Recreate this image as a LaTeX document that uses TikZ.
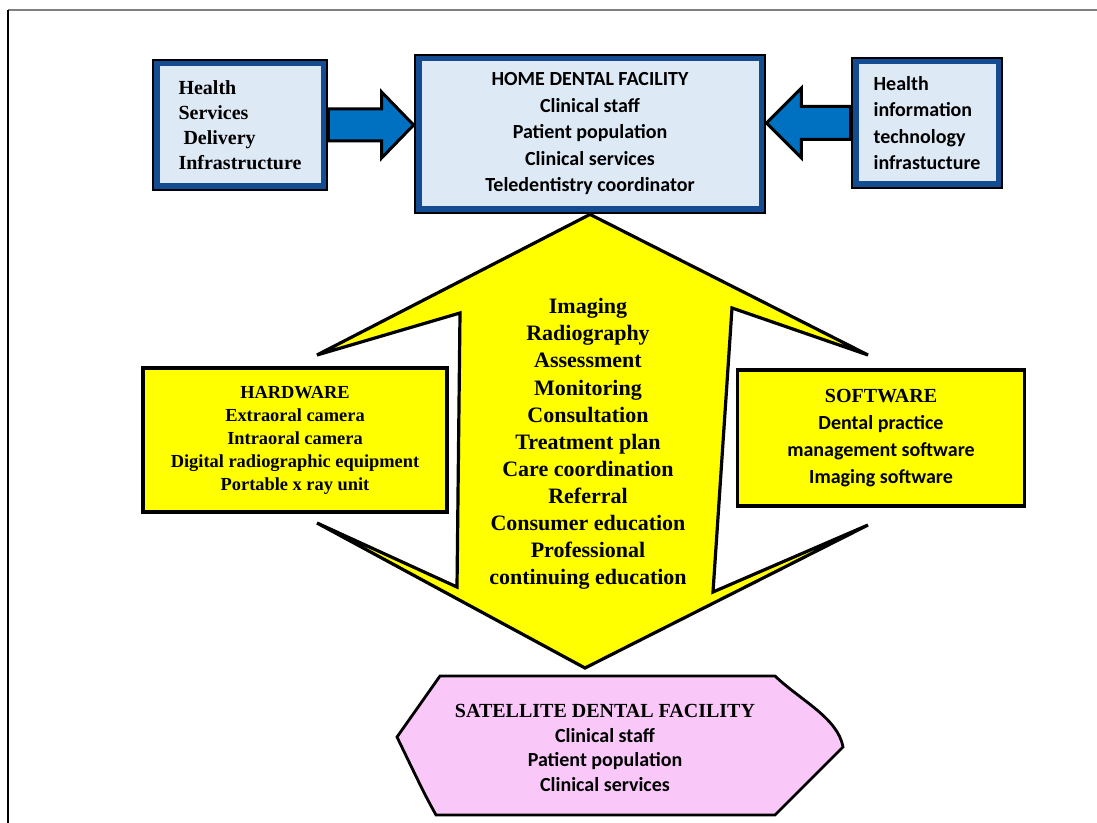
\documentclass[tikz,border=0pt]{standalone}
\usepackage{fontspec}
\setmainfont{Liberation Serif}
\newfontfamily\calib{Carlito}
\usetikzlibrary{calc}
\definecolor{hd_light}{RGB}{222,233,246}
\definecolor{hd_band}{RGB}{20,75,145}
\definecolor{hd_arrow}{RGB}{0,112,192}
\definecolor{tele_yellow}{RGB}{255,255,0}
\definecolor{sat_pink}{RGB}{249,200,249}
\tikzstyle{infra}=[rectangle,draw=black,line width=1.4pt,fill=hd_light,inner sep=0pt,
  path picture={\draw[hd_band,line width=6.5pt] (path picture bounding box.south west)
  rectangle (path picture bounding box.north east);},
  align=left,font=\bfseries\fontsize{10}{12.5}\selectfont]
\tikzstyle{homebox}=[infra,align=center,font=\calib\bfseries\fontsize{10}{13.25}\selectfont]
\tikzstyle{barrow}=[draw=black,fill=hd_arrow,line width=1.5pt,line join=miter]
\tikzstyle{tele}=[draw=black,fill=tele_yellow,line width=1.6pt]
\tikzstyle{ybox}=[rectangle,draw=black,fill=tele_yellow,line width=1.6pt,inner sep=0pt,
  align=center,font=\bfseries\fontsize{9.2}{11.5}\selectfont]
\tikzstyle{sat}=[draw=black,fill=sat_pink,line width=1.4pt]

\begin{document}
\begin{tikzpicture}[x=0.5pt,y=-0.5pt]
        \useasboundingbox (0,0) rectangle (1097,823);
        \draw[gray,line width=1pt] (8,10) -- (1097,10);
        \draw[black,line width=1pt] (8,10) -- (8,823);
        \node [style=infra,minimum width=87pt,minimum height=65pt] (hsd) at (240,125)
          {Health\\Services\\\ Delivery\\Infrastructure};
        \node [style=homebox,minimum width=175pt,minimum height=79pt] (home) at (590,134)
          {HOME DENTAL FACILITY\\Clinical staff\\Patient population\\Clinical services\\Teledentistry coordinator};
        \node [style=infra,font=\calib\bfseries\fontsize{10}{13.3}\selectfont,
          minimum width=75pt,minimum height=65pt] (hit) at (927,123)
          {Health\\information\\technology\\infrastucture};
        \coordinate (hsdTip) at (home.west |- hsd.east);
        \coordinate (hitTip) at (home.east |- hit.west);
        \draw [style=barrow] ([yshift=8pt]hsd.east) -- ([xshift=-16pt,yshift=8pt]hsdTip)
          -- ([xshift=-16pt,yshift=16.5pt]hsdTip) -- (hsdTip)
          -- ([xshift=-16pt,yshift=-16.5pt]hsdTip) -- ([xshift=-16pt,yshift=-8pt]hsdTip)
          -- ([yshift=-8pt]hsd.east) -- cycle;
        \draw [style=barrow] ([yshift=8.25pt]hit.west) -- ([xshift=17.5pt,yshift=8.25pt]hitTip)
          -- ([xshift=17.5pt,yshift=17.5pt]hitTip) -- (hitTip)
          -- ([xshift=17.5pt,yshift=-17.5pt]hitTip) -- ([xshift=17.5pt,yshift=-8.25pt]hitTip)
          -- ([yshift=-8.25pt]hit.west) -- cycle;
        % double-headed block shape
        \draw [style=tele] (home.south) -- (317,355) -- (460,313) -- (457,587) -- (317,523)
          -- (585,668) -- (868,525) -- (713,592) -- (732,308) -- (868,355) -- cycle;
        \node [align=center,font=\bfseries\fontsize{11}{13.55}\selectfont] (uses) at (588,444)
          {Imaging\\Radiography\\Assessment\\Monitoring\\Consultation\\Treatment plan\\Care coordination\\Referral\\Consumer education\\Professional\\continuing education};
        \node [style=ybox,minimum width=152pt,minimum height=72pt] (hw) at (295,440)
          {HARDWARE\\Extraoral camera\\Intraoral camera\\Digital radiographic equipment\\Portable x ray unit};
        \node [style=ybox,font=\calib\bfseries\fontsize{10}{13.5}\selectfont,
          minimum width=143.5pt,minimum height=68pt] (sw) at (881,438)
          {{\rmfamily SOFTWARE}\\Dental practice\\management software\\Imaging software};
        \draw [style=sat] (440,676) -- (775,676) .. controls (800,700) and (838,718) .. (843,747)
          -- (775,815) -- (436,815) .. controls (425,795) .. (397,737) -- cycle;
        \node [align=center,font=\calib\bfseries\fontsize{10}{12.3}\selectfont] (satl) at (605,748)
          {{\rmfamily SATELLITE DENTAL FACILITY}\\Clinical staff\\Patient population\\Clinical services};
    \end{tikzpicture}
\end{document}
